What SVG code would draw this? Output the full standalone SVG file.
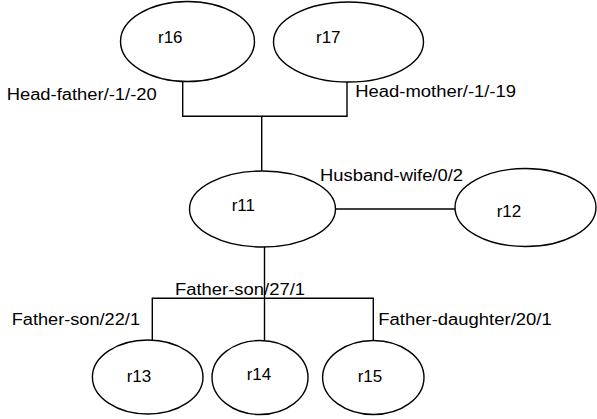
<svg xmlns="http://www.w3.org/2000/svg" width="597" height="419" viewBox="0 0 597 419">
<style>
.node ellipse{fill:#fff;stroke:#000;stroke-width:1.4}
.node text{font-family:"Liberation Sans",Arial,sans-serif;font-size:17px;fill:#000}
.conn path{fill:none;stroke:#000;stroke-width:1.4}
.lbl{font-family:"Liberation Sans",Arial,sans-serif;font-size:16px;fill:#000}
</style>
<rect width="597" height="419" fill="#fff"/>
<g id="connectors" class="conn">
<path d="M182.7 81.5 V116.3 H347 V82"/>
<path d="M261.7 116.3 V171"/>
<path d="M335.5 209 H455"/>
<path d="M264.5 247 V340.5"/>
<path d="M152.3 340 V298.3 H373.3 V340.5"/>
</g>
<g id="labels">
<text class="lbl" x="6.7" y="100" textLength="150" lengthAdjust="spacingAndGlyphs">Head-father/-1/-20</text>
<text class="lbl" x="355.3" y="96.7" textLength="160.7" lengthAdjust="spacingAndGlyphs">Head-mother/-1/-19</text>
<text class="lbl" x="320" y="180.7" textLength="143" lengthAdjust="spacingAndGlyphs">Husband-wife/0/2</text>
<text class="lbl" x="175" y="295" textLength="130" lengthAdjust="spacingAndGlyphs">Father-son/27/1</text>
<text class="lbl" x="11.7" y="325" textLength="128.3" lengthAdjust="spacingAndGlyphs">Father-son/22/1</text>
<text class="lbl" x="378.3" y="325" textLength="173.4" lengthAdjust="spacingAndGlyphs">Father-daughter/20/1</text>
</g>
<g id="r16" class="node"><ellipse cx="187.5" cy="41.5" rx="67" ry="40"/><text x="158" y="43">r16</text></g>
<g id="r17" class="node"><ellipse cx="348.5" cy="42" rx="75" ry="40"/><text x="316" y="43">r17</text></g>
<g id="r11" class="node"><ellipse cx="262.5" cy="209" rx="73" ry="38"/><text x="231.7" y="211">r11</text></g>
<g id="r12" class="node"><ellipse cx="525.5" cy="207.5" rx="70.5" ry="39"/><text x="496.7" y="216.7">r12</text></g>
<g id="r13" class="node"><ellipse cx="147.7" cy="377" rx="55.3" ry="37"/><text x="126.7" y="381.7">r13</text></g>
<g id="r14" class="node"><ellipse cx="260" cy="377.5" rx="48" ry="37"/><text x="246.7" y="380">r14</text></g>
<g id="r15" class="node"><ellipse cx="373.3" cy="377.5" rx="50.7" ry="37"/><text x="357.7" y="381.7">r15</text></g>
</svg>
